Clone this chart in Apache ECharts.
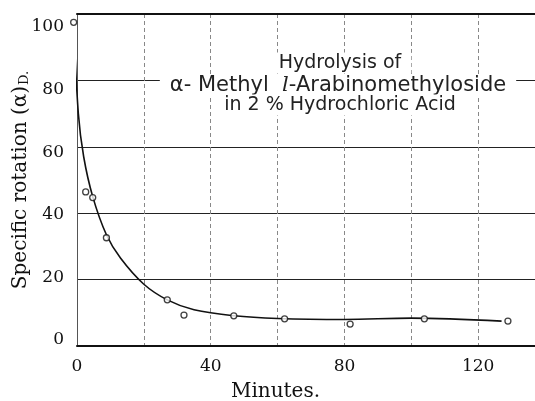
<!DOCTYPE html>
<html>
<head>
<meta charset="utf-8">
<script src="https://cdn.jsdelivr.net/npm/echarts@6/dist/echarts.min.js"></script>
<style>html,body{margin:0;padding:0;background:#fff;}#c{width:535px;height:401px;}</style>
</head>
<body>
<div id="c"></div>
<script>
// Observed points (minutes, specific rotation)
const pointMinutes  = [-1, 2.6, 4.7, 8.8, 27, 32, 46.9, 62.1, 81.7, 103.9, 128.9];
const pointRotation = [97.5, 46.4, 44.7, 32.6, 13.9, 9.3, 9.1, 8.2, 6.6, 8.2, 7.5];
// Smoothed fitted curve
const curveMinutes  = [-1, 0.4, 2, 4.7, 8.8, 13, 20, 27, 35, 47, 60, 80, 100, 127];
const curveRotation = [97.5, 70, 57, 45, 33.5, 26.5, 18.6, 13.9, 10.9, 9.1, 8.3, 8.0, 8.4, 7.5];
const xTicks = [0, 40, 80, 120];
const yTicks = [0, 20, 40, 60, 80, 100];
const titleLines = ['Hydrolysis of', 'α- Methyl  ', 'l', '-Arabinomethyloside', 'in 2 % Hydrochloric Acid'];

const chart = echarts.init(document.getElementById('c'));
const serif = 'DejaVu Serif';

chart.setOption({
  backgroundColor: '#fff',
  animation: false,
  grid: [
    {left: 77, right: 0, top: 14, bottom: 55, outerBoundsMode: 'none', containLabel: false},
    {left: 77, right: 0, top: 27, bottom: 61, outerBoundsMode: 'none', containLabel: false}
  ],
  xAxis: [
    {
      gridIndex: 0, type: 'value', min: 0, max: 137, interval: 20,
      axisLine: {show: true, lineStyle: {color: '#111', width: 2}},
      axisTick: {show: false},
      splitLine: {show: true, lineStyle: {color: '#888', width: 1, type: [4, 3]}},
      axisLabel: {
        margin: 12, showMaxLabel: false,
        fontFamily: serif, fontSize: 17, color: '#111',
        formatter: v => (xTicks.indexOf(v) >= 0 ? String(v) : '')
      },
      name: 'Minutes.', nameLocation: 'middle', nameGap: 36,
      nameTextStyle: {fontFamily: serif, fontSize: 20, color: '#111', padding: [0, 61, 0, 0]}
    },
    {
      gridIndex: 0, type: 'value', position: 'top', min: 0, max: 137,
      axisLine: {show: true, lineStyle: {color: '#111', width: 2}},
      axisTick: {show: false}, axisLabel: {show: false}, splitLine: {show: false}
    },
    {
      gridIndex: 1, type: 'value', min: 0, max: 137, show: false
    }
  ],
  yAxis: [
    {
      gridIndex: 0, type: 'value', min: 0, max: 100, interval: 20,
      axisLine: {show: true, lineStyle: {color: '#555', width: 1}},
      axisTick: {show: false},
      axisLabel: {show: false},
      splitLine: {show: true, lineStyle: {color: '#222', width: 1}},
      name: '{a|Specific rotation (α)}{b|D.}',
      nameLocation: 'middle', nameGap: 46,
      nameTextStyle: {
        color: '#111',
        rich: {
          a: {fontFamily: serif, fontSize: 20, color: '#111'},
          b: {fontFamily: serif, fontSize: 13, color: '#111', verticalAlign: 'bottom', padding: [8, 0, 0, 1]}
        }
      }
    },
    {
      gridIndex: 1, type: 'value', min: 0, max: 100, interval: 20,
      axisLine: {show: false}, axisTick: {show: false}, splitLine: {show: false},
      axisLabel: {
        margin: 13, fontFamily: serif, fontSize: 17, color: '#111',
        formatter: v => (yTicks.indexOf(v) >= 0 ? String(v) : '')
      }
    }
  ],
  graphic: [
    {
      type: 'text', z: 100, x: 340, y: 63,
      style: {text: titleLines[0], align: 'center', verticalAlign: 'middle',
        font: '19px "DejaVu Sans"', fill: '#222', backgroundColor: '#fff', padding: [1, 10]}
    },
    {
      type: 'text', z: 99, x: 338, y: 86,
      style: {
        text: '{n|' + titleLines[1] + '}{i|' + titleLines[2] + '}{n|' + titleLines[3] + '}',
        align: 'center', verticalAlign: 'middle', backgroundColor: '#fff', padding: [1, 10],
        rich: {
          n: {font: '21px "DejaVu Sans"', fill: '#222'},
          i: {font: 'italic 21px "DejaVu Serif"', fill: '#222'}
        }
      }
    },
    {
      type: 'text', z: 100, x: 340, y: 105,
      style: {text: titleLines[4], align: 'center', verticalAlign: 'middle',
        font: '19px "DejaVu Sans"', fill: '#222', backgroundColor: '#fff', padding: [1, 6]}
    }
  ],
  series: [
    {
      type: 'line', xAxisIndex: 0, yAxisIndex: 0, clip: false,
      data: curveMinutes.map((x, i) => [x, curveRotation[i]]),
      smooth: 0.35, showSymbol: false, symbol: 'none',
      lineStyle: {color: '#111', width: 1.6}, z: 3
    },
    {
      type: 'scatter', xAxisIndex: 0, yAxisIndex: 0, clip: false,
      data: pointMinutes.map((x, i) => [x, pointRotation[i]]),
      symbol: 'circle', symbolSize: 6,
      itemStyle: {color: '#fff', borderColor: '#111', borderWidth: 1.3}, z: 4
    }
  ]
});
</script>
</body>
</html>
